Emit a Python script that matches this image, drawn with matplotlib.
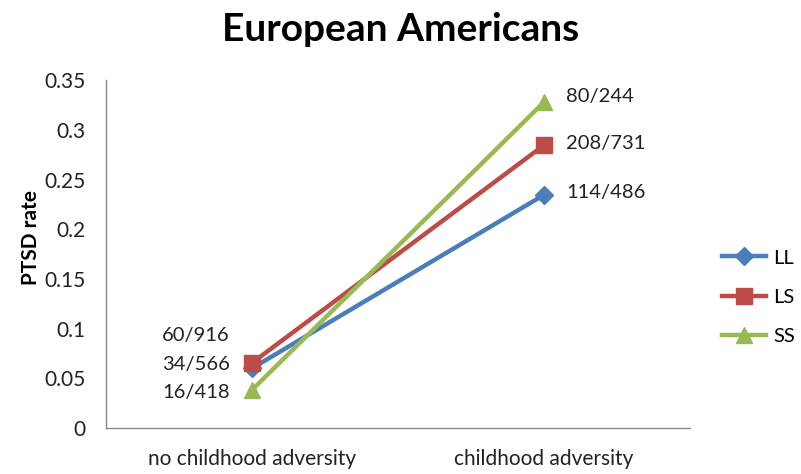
import matplotlib
matplotlib.use("Agg")
import matplotlib.pyplot as plt

# Cases / totals per genotype group
categories = ["no childhood adversity", "childhood adversity"]
groups = ["LL", "LS", "SS"]
cases = {"LL": [34, 114], "LS": [60, 208], "SS": [16, 80]}
totals = {"LL": [566, 486], "LS": [916, 731], "SS": [418, 244]}

colors = {"LL": "#4A7EBB", "LS": "#BE4B48", "SS": "#98B954"}
markers = {"LL": "D", "LS": "s", "SS": "^"}
msizes = {"LL": 9, "LS": 11, "SS": 11}
# label offsets in points (x, y) for each group at each category
label_offsets = {
    "LL": [(-16, 3), (16, 2)],
    "LS": [(-16, 20), (16, 1)],
    "SS": [(-16, -2), (16, 4)],
}

plt.rcParams["font.family"] = ["Lato", "DejaVu Sans"]

fig = plt.figure(figsize=(8.01, 4.74), dpi=100)
ax = fig.add_axes([0.1323, 0.097, 0.7291, 0.734])

x = list(range(len(categories)))
for g in groups:
    rates = [c / t for c, t in zip(cases[g], totals[g])]
    ax.plot(x, rates, color=colors[g], lw=3.2, marker=markers[g],
            markersize=msizes[g], label=g, zorder=3)
    for i, (c, t, r) in enumerate(zip(cases[g], totals[g], rates)):
        dx, dy = label_offsets[g][i]
        ax.annotate(f"{c}/{t}", (i, r), xytext=(dx, dy), textcoords="offset points",
                    ha="left" if dx > 0 else "right", va="center",
                    fontsize=14.5, color="#222222")

ax.set_xlim(-0.5, 1.5)
ax.set_ylim(0, 0.35)
ax.set_yticks([0, 0.05, 0.1, 0.15, 0.2, 0.25, 0.3, 0.35])
ax.set_yticklabels(["0", "0.05", "0.1", "0.15", "0.2", "0.25", "0.3", "0.35"])
ax.set_xticks(x)
ax.set_xticklabels(categories)
ax.tick_params(axis="both", length=0, labelsize=15, labelcolor="#222222")
ax.tick_params(axis="y", pad=15)
ax.tick_params(axis="x", pad=15)
for s in ["top", "right"]:
    ax.spines[s].set_visible(False)
for s in ["left", "bottom"]:
    ax.spines[s].set_color("#868686")
    ax.spines[s].set_linewidth(1.0)

ax.set_ylabel("PTSD rate", fontsize=15, fontweight="bold")
ax.yaxis.set_label_coords(-0.112, 0.549)
fig.suptitle("European Americans", fontsize=28, fontweight="bold", x=0.5, y=0.975)

ax.legend(loc="center left", bbox_to_anchor=(1.041, 0.376), borderaxespad=0,
          frameon=False, fontsize=14.5, handlelength=2.2, labelspacing=1.1,
          handletextpad=0.35)

fig.savefig("out.png", dpi=100)
